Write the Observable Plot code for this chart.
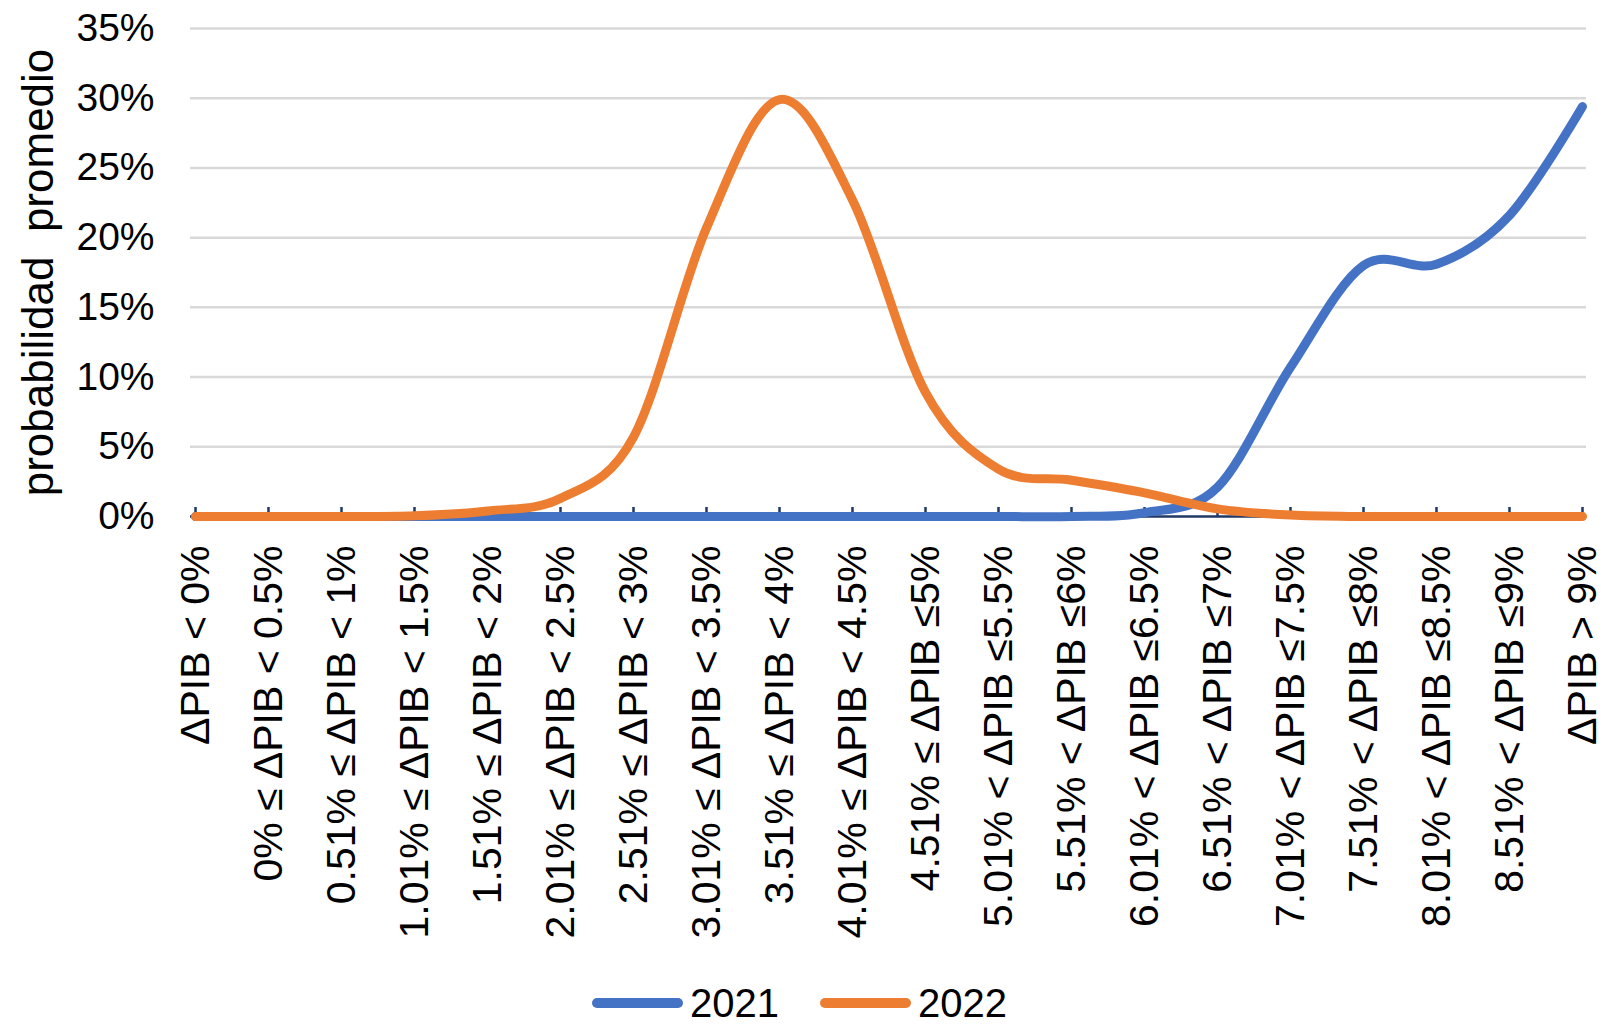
<!DOCTYPE html>
<html><head><meta charset="utf-8">
<script src="https://cdn.jsdelivr.net/npm/d3@7"></script>
<script src="https://cdn.jsdelivr.net/npm/@observablehq/plot@0.6"></script>
<style>
body{margin:0;background:#fff;font-family:"Liberation Sans",Arial,sans-serif;}
#legend{display:flex;align-items:center;height:44px;margin-top:21px;padding-left:592px;font-size:40px;color:#000;}
#legend .item{display:flex;align-items:center;}
#legend svg{display:block;}
</style></head><body><div id="chart"></div><div id="legend"></div>
<script>
const categories = [
  "ΔPIB < 0%",
  "0% ≤ ΔPIB < 0.5%",
  "0.51% ≤ ΔPIB < 1%",
  "1.01% ≤ ΔPIB < 1.5%",
  "1.51% ≤ ΔPIB < 2%",
  "2.01% ≤ ΔPIB < 2.5%",
  "2.51% ≤ ΔPIB < 3%",
  "3.01% ≤ ΔPIB < 3.5%",
  "3.51% ≤ ΔPIB < 4%",
  "4.01% ≤ ΔPIB < 4.5%",
  "4.51% ≤ ΔPIB ≤5%",
  "5.01% < ΔPIB ≤5.5%",
  "5.51% < ΔPIB ≤6%",
  "6.01% < ΔPIB ≤6.5%",
  "6.51% < ΔPIB ≤7%",
  "7.01% < ΔPIB ≤7.5%",
  "7.51% < ΔPIB ≤8%",
  "8.01% < ΔPIB ≤8.5%",
  "8.51% < ΔPIB ≤9%",
  "ΔPIB > 9%"
];
const values2021 = [0, 0, 0, 0, 0, 0, 0, 0, 0, 0, 0, 0, 0, 0.0027, 0.021, 0.107, 0.180, 0.181, 0.216, 0.294];
const values2022 = [0, 0, 0, 0.0005, 0.004, 0.013, 0.057, 0.207, 0.299, 0.227, 0.089, 0.034, 0.026, 0.017, 0.0055, 0.001, 0, 0, 0, 0];
const yTicks = [0, 0.05, 0.10, 0.15, 0.20, 0.25, 0.30, 0.35];
const seriesNames = ["2021", "2022"];
const seriesColors = ["#4472C4", "#ED7D31"];
const yTitle = "probabilidad  promedio";

const data = [];
seriesNames.forEach((name, s) => {
  const vals = s === 0 ? values2021 : values2022;
  categories.forEach((c, i) => data.push({cat: c, year: name, v: vals[i]}));
});

const font = '"Liberation Sans", Arial, sans-serif';
const chart = Plot.plot({
  width: 1611, height: 960,
  marginLeft: 190, marginRight: 25, marginTop: 28, marginBottom: 444,
  style: {fontFamily: font, fontSize: "40px", color: "#000", background: "#fff", overflow: "visible"},
  x: {type: "point", domain: categories, padding: 0, axis: null},
  y: {domain: [0, 0.35], axis: null},
  color: {domain: seriesNames, range: seriesColors},
  marks: [
    Plot.ruleY(yTicks.filter(t => t > 0), {stroke: "#D9D9D9", strokeWidth: 2.5}),
    Plot.axisY({ticks: yTicks, tickFormat: d3.format(".0%"), tickSize: 0, tickPadding: 36, fontSize: 39, label: null}),
    Plot.axisY({ticks: [], tickSize: 0, fontSize: 44,
      label: yTitle, labelAnchor: "center", labelOffset: 169, labelArrow: "none"}),
    Plot.ruleY([0], {stroke: "#1F3864", strokeWidth: 2.5}),
    Plot.ruleX(categories, {x: d => d, y1: 0, y2: 0, insetBottom: 9, stroke: "#1F3864", strokeWidth: 2.5}),
    Plot.line(data, {x: "cat", y: "v", stroke: "year", z: "year", curve: "cardinal", strokeWidth: 9,
      strokeLinecap: "round", strokeLinejoin: "round"}),
    Plot.text(categories, {x: d => d, frameAnchor: "bottom", rotate: -90, textAnchor: "end",
      lineAnchor: "middle", dy: 29, fontSize: 41, fill: "#000"})
  ]
});
document.getElementById("chart").appendChild(chart);

const legend = document.getElementById("legend");
seriesNames.forEach((name, i) => {
  const item = document.createElement("div");
  item.className = "item";
  if (i > 0) item.style.marginLeft = "41px";
  item.innerHTML = `<svg width="91" height="14"><line x1="5" y1="7" x2="86" y2="7" stroke="${seriesColors[i]}" stroke-width="10" stroke-linecap="round"/></svg><span style="margin-left:7px">${name}</span>`;
  legend.appendChild(item);
});
</script>
</body></html>
